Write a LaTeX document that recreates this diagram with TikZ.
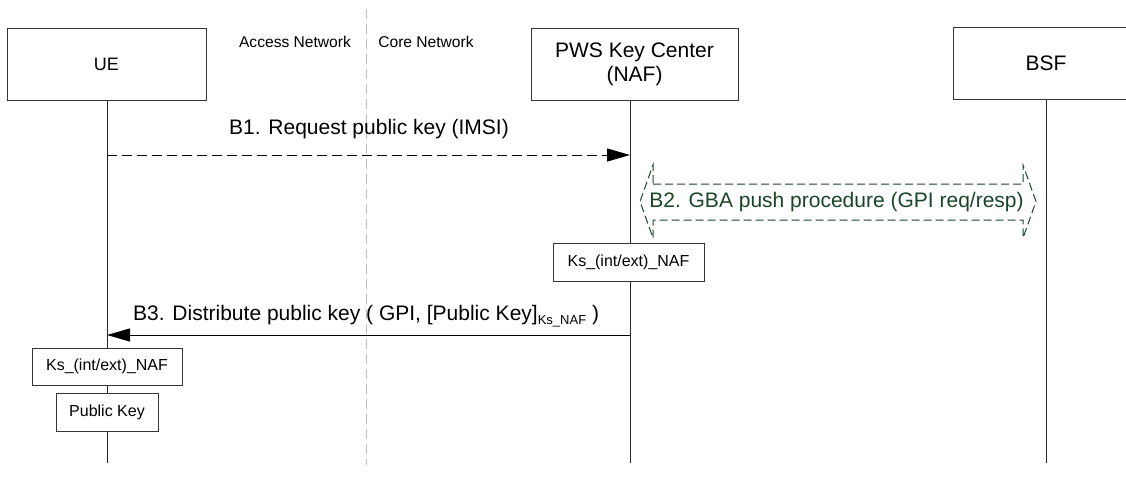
\documentclass[tikz,border=0pt]{standalone}
\usepackage{fontspec}
\setmainfont{Liberation Sans}
\usetikzlibrary{arrows.meta}
\definecolor{gbagreen}{RGB}{25,70,40}
\definecolor{linegray}{RGB}{55,55,55}
\definecolor{sepgray}{RGB}{190,190,190}
\begin{document}
\begin{tikzpicture}[x=1pt,y=-1pt,
  entity/.style={draw=linegray, line width=1pt, fill=white, minimum width=#1, minimum height=72pt, inner sep=0pt, font=\fontsize{21}{24}\selectfont, align=center},
  keybox/.style={draw=linegray, line width=1pt, fill=white, minimum width=#1, minimum height=38pt, inner sep=0pt, font=\fontsize{16}{19}\selectfont},
  lifeline/.style={line width=1pt, draw=black!85},
  msg/.style={line width=1pt, -{Triangle[length=23pt,width=13pt]}},
  msglabel/.style={font=\fontsize{21}{24}\selectfont, inner sep=0pt},
  netlabel/.style={font=\fontsize{15.6}{18}\selectfont, inner sep=0pt, anchor=base}]
\useasboundingbox (0,0) rectangle (1126,477);
\clip (0,0) rectangle (1126,477);
% lifeline coordinates
\coordinate (ueTop) at (107,100);
\coordinate (ueEnd) at (107,463);
\coordinate (pwsTop) at (630,100);
\coordinate (pwsEnd) at (630,463);
\coordinate (bsfTop) at (1046,99);
\coordinate (bsfEnd) at (1046,463);
\coordinate (sepTop) at (366,9);
\coordinate (sepEnd) at (366,465);
% separator
\draw[sepgray, line width=1pt, dash pattern=on 10pt off 5pt] (sepTop) -- (sepEnd);
% lifelines
\draw[lifeline] (ueTop) -- (ueEnd);
\draw[lifeline] (pwsTop) -- (pwsEnd);
\draw[lifeline] (bsfTop) -- (bsfEnd);
% entities
\node[entity=199pt, font=\fontsize{18}{21}\selectfont] (ue) at (106.5,64) {UE};
\node[entity=207pt] (pws) at (634.5,64) {PWS Key Center\\(NAF)};
\node[entity=186pt] (bsf) at (1046,63) {BSF};
% network labels
\node[netlabel] (acc) at (295,47.5) {Access Network};
\node[netlabel] (core) at (426,47.5) {Core Network};
% B1
\coordinate (b1s) at (107,155);
\coordinate (b1e) at (630,155);
\draw[msg, dash pattern=on 10pt off 5pt] (b1s) -- (b1e);
\node[msglabel, anchor=base] (b1l) at (369,134.5) {B1. Request public key (IMSI)};
% B2
\draw[gbagreen, line width=1pt, dash pattern=on 8pt off 4pt]
  (653,184) -- (1023,184) -- (1023,165) -- (1036,201.5) -- (1023,238) -- (1023,220)
  -- (653,220) -- (653,238) -- (640,201.5) -- (653,165) -- cycle;
\node[msglabel, anchor=base, text=gbagreen] (b2l) at (836.5,207) {B2. GBA push procedure (GPI req/resp)};
% Ks at PWS
\node[keybox=151pt] (ksn) at (628.5,262) {Ks\_(int/ext)\_NAF};
% B3
\coordinate (b3s) at (630,335);
\coordinate (b3e) at (107,335);
\draw[msg] (b3s) -- (b3e);
\node[msglabel, anchor=base west] (b3l) at (133,320) {B3. Distribute public key ( GPI, [Public Key]\raisebox{-4pt}{\fontsize{13}{13}\selectfont Ks\_NAF} )};
% UE key boxes
\node[keybox=150pt, minimum height=37pt] (ksu) at (107,366.5) {Ks\_(int/ext)\_NAF};
\node[keybox=102pt] (pk) at (107,412) {Public Key};
\end{tikzpicture}
\end{document}
